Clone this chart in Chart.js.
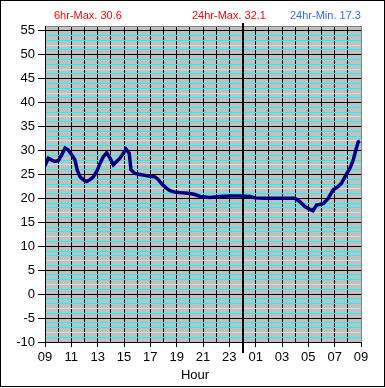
<!DOCTYPE html>
<html>
<head>
<meta charset="utf-8">
<script src="https://cdn.jsdelivr.net/npm/chart.js@4.4.1/dist/chart.umd.min.js"></script>
<style>
  html, body { margin: 0; padding: 0; background: #fff; }
  #wrap { width: 385px; height: 388px; }
</style>
</head>
<body>
<div id="wrap"><canvas id="tempChart" width="385" height="388"></canvas></div>
<script>
// hours since 09:00 and the temperature read at that time
var hourOffsets = [0, 0.25, 0.51, 0.76, 1.01, 1.27, 1.52, 1.77, 2.03, 2.28, 2.45, 2.66, 2.91, 3.17, 3.42, 3.67,
  3.93, 4.18, 4.43, 4.68, 4.94, 5.19, 5.44, 5.69, 5.95, 6.15, 6.4, 6.53, 6.83, 7.21, 7.59, 7.97,
  8.35, 8.58, 8.88, 9.19, 9.49, 9.87, 10.25, 10.63, 11.01, 11.39, 11.77, 12.15, 12.53, 12.91, 13.29,
  14.05, 14.81, 15.57, 15.95, 16.7, 17.46, 18.22, 18.98, 19.36, 19.74, 20.12, 20.35, 20.63, 21.13,
  21.51, 21.89, 22.27, 22.53, 22.78, 23.16, 23.41, 23.61, 23.79, 23.92];
var temps = [26.8, 28.4, 28.0, 27.7, 27.9, 29.1, 30.5, 30.1, 29.1, 28.0, 25.9, 24.5, 23.9, 23.5, 23.9, 24.5,
  25.6, 27.3, 28.7, 29.5, 28.4, 27.0, 27.7, 28.4, 29.4, 30.3, 29.4, 26.0, 25.2, 25.0, 24.8, 24.6,
  24.5, 24.0, 23.0, 22.2, 21.6, 21.3, 21.2, 21.1, 21.0, 20.8, 20.4, 20.3, 20.2, 20.3, 20.4,
  20.5, 20.5, 20.4, 20.1, 20.0, 20.0, 20.0, 20.0, 19.3, 18.3, 17.7, 17.4, 18.6, 18.9,
  20.0, 21.8, 22.5, 23.2, 24.5, 26.3, 28.0, 30.1, 31.8, 32.0];
var hourLabels = ["09", "10", "11", "12", "13", "14", "15", "16", "17", "18", "19", "20", "21", "22", "23",
  "00", "01", "02", "03", "04", "05", "06", "07", "08", "09"];
var yMin = -10, yMax = 56;
var headerTexts = ["6hr-Max. 30.6", "24hr-Max. 32.1", "24hr-Min. 17.3"];
var headerColors = ["#ff0000", "#ff0000", "#3366ff"];
var headerX = [54, 192, 290];
var axisTitle = "Hour";
var midnightOffset = 15;

var FONT = '"Liberation Sans", Arial, sans-serif';

var points = hourOffsets.map(function (h, i) { return { x: h, y: temps[i] }; });

// gray plot background, midnight bar, header texts and frame
var decorPlugin = {
  id: "decor",
  beforeDraw: function (chart) {
    var a = chart.chartArea, ctx = chart.ctx;
    ctx.save();
    ctx.fillStyle = "#c0c0c0";
    ctx.fillRect(a.left, a.top, a.right - a.left, a.bottom - a.top);
    ctx.restore();
  },
  beforeDatasetsDraw: function (chart) {
    var ctx = chart.ctx;
    var px = Math.round(chart.scales.x.getPixelForValue(midnightOffset));
    ctx.save();
    ctx.fillStyle = "#000";
    ctx.fillRect(px - 1, 23, 2, 330);
    ctx.restore();
  },
  afterDraw: function (chart) {
    var ctx = chart.ctx;
    ctx.save();
    ctx.font = "11px " + FONT;
    ctx.textBaseline = "alphabetic";
    headerTexts.forEach(function (t, i) {
      ctx.fillStyle = headerColors[i];
      ctx.fillText(t, headerX[i], 19);
    });
    ctx.fillStyle = "#000";
    ctx.font = "13px " + FONT;
    ctx.textAlign = "center";
    ctx.fillText(axisTitle, 195, 379);
    ctx.strokeStyle = "#000";
    ctx.lineWidth = 1;
    ctx.strokeRect(0.5, 0.5, 384, 386);
    ctx.restore();
  }
};

new Chart(document.getElementById("tempChart").getContext("2d"), {
  type: "line",
  data: {
    datasets: [{
      data: points,
      borderColor: "#000080",
      borderWidth: 3.5,
      pointRadius: 0,
      tension: 0,
      fill: false
    }]
  },
  options: {
    responsive: false,
    animation: false,
    layout: { padding: { top: 26, right: 24, left: 0, bottom: 0 } },
    plugins: { legend: { display: false }, tooltip: { enabled: false } },
    scales: {
      x: {
        type: "linear",
        min: 0,
        max: 24,
        afterFit: function (s) { s.height = 46; },
        border: { color: "#000", width: 1 },
        grid: {
          color: function (c) { return c.tick && c.tick.value === 24 ? "#808080" : "#000"; },
          lineWidth: 1,
          tickLength: 5,
          tickColor: function (c) { return c.tick && c.tick.value % 2 === 0 ? "#000" : "rgba(0,0,0,0)"; }
        },
        ticks: {
          stepSize: 1,
          autoSkip: false,
          maxRotation: 0,
          padding: 3,
          color: "#000",
          font: { family: FONT, size: 13 },
          callback: function (v) { return v % 2 === 0 ? hourLabels[v] : ""; }
        }
      },
      y: {
        min: yMin,
        max: yMax,
        afterFit: function (s) { s.width = 45; },
        border: { color: "#000", width: 1 },
        grid: {
          color: function (c) {
            var v = c.tick ? c.tick.value : 0;
            if (v === yMax) return "#808080";
            if (v % 5 === 0) return "#000";
            if (((v % 5) + 5) % 5 === 2) return "#d4dede";
            return "#00ffff";
          },
          lineWidth: 1,
          tickLength: 7,
          tickColor: function (c) { return c.tick && c.tick.value % 5 === 0 && c.tick.value !== yMax ? "#000" : "rgba(0,0,0,0)"; }
        },
        ticks: {
          stepSize: 1,
          autoSkip: false,
          padding: 3,
          color: "#000",
          font: { family: FONT, size: 13 },
          callback: function (v) { return v % 5 === 0 && v !== yMax ? String(v) : ""; }
        }
      }
    }
  },
  plugins: [decorPlugin]
});
</script>
</body>
</html>
